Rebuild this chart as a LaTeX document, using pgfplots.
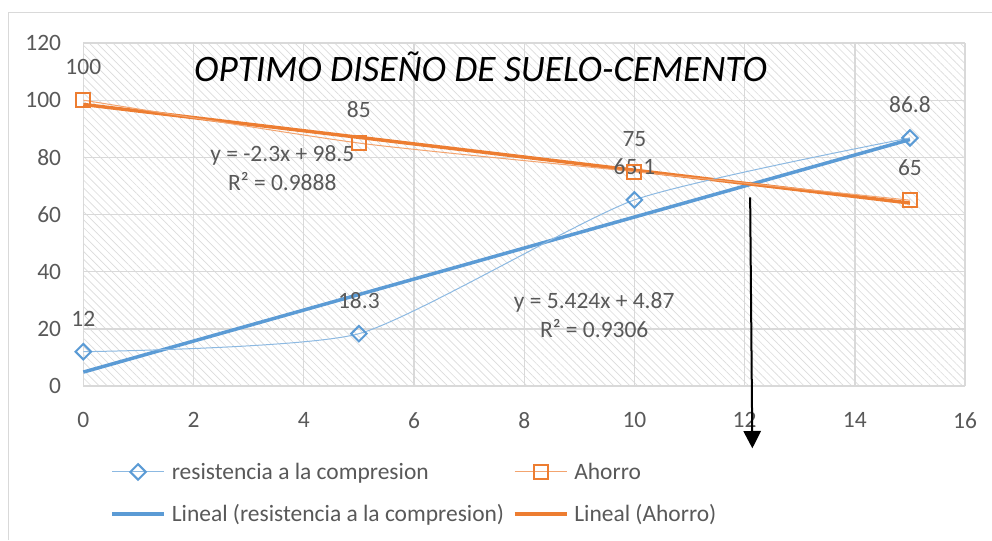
\documentclass[border=0pt]{standalone}
\usepackage{pgfplots}
\pgfplotsset{compat=1.18}
\usepackage{fontspec}
\setmainfont{Carlito}
\usetikzlibrary{patterns.meta, arrows.meta}
\definecolor{xlblue}{HTML}{5B9BD5}
\definecolor{xlorange}{HTML}{ED7D31}
\definecolor{xlgray}{HTML}{595959}
\definecolor{xlgrid}{HTML}{D9D9D9}
\definecolor{xlhatch}{HTML}{DCDCDC}
\newcommand{\lblfont}{\fontsize{17.6}{20}\selectfont}
\begin{document}
\begin{tikzpicture}
\fill[white] (0,0) rectangle (744pt,405pt);
\draw[xlgrid, line width=0.75pt] (6pt,0) -- (6pt,395.25pt) -- (744pt,395.25pt);
\begin{axis}[
  at={(62.5pt,115.5pt)}, anchor=south west,
  scale only axis, width=661.3pt, height=257.25pt,
  xmin=0, xmax=16, ymin=0, ymax=120,
  xtick={0,2,...,16}, ytick={0,20,...,120},
  grid=major, major grid style={xlgrid, line width=1pt},
  axis line style={draw=none},
  major tick length=0pt,
  tick label style={font=\lblfont, text=xlgray, inner sep=0pt},
  /pgf/number format/assume math mode=true,
  xticklabel style={anchor=north, yshift=-19.5pt},
  yticklabel style={anchor=east, xshift=-16.5pt},
  axis background/.style={pattern={Lines[angle=-45,distance=4.2pt,line width=0.5pt]}, pattern color=xlhatch},
  clip=false,
  legend columns=2,
  legend style={draw=none, fill=none, at={(0.0303,-0.3125)}, anchor=west, inner sep=0pt,
    font=\lblfont, text=xlgray, row sep=17.5pt, nodes={inner sep=0pt},
    /tikz/every odd column/.append style={column sep=4.5pt},
    /tikz/every even column/.append style={column sep=6.5pt}},
  legend cell align=left,
  legend image code/.code={\draw[mark repeat=2, mark phase=2, #1] plot coordinates {(0pt,0pt) (19.5pt,0pt) (39pt,0pt)};},
]
\addlegendimage{xlblue!70, line width=0.75pt, mark=square, mark size=4.1pt, mark options={draw=xlblue, fill=white, line width=1.5pt, rotate=45, solid}}
\addlegendentry{resistencia a la compresion}
\addlegendimage{xlorange!70, line width=0.75pt, mark=square, mark size=5.3pt, mark options={draw=xlorange, fill=white, line width=1.5pt, solid}}
\addlegendentry{Ahorro}
\addlegendimage{xlblue, line width=2.6pt}
\addlegendentry{Lineal (resistencia a la compresion)}
\addlegendimage{xlorange, line width=2.6pt}
\addlegendentry{Lineal (Ahorro)}

% trend lines
\addplot[xlblue, line width=2.6pt, forget plot] coordinates {(0,4.87) (15,86.23)};
\addplot[xlorange, line width=2.6pt, forget plot] coordinates {(0,98.5) (15,64.0)};

% series
\addplot[xlblue!70, line width=0.75pt, smooth, tension=0.35, mark=square, mark size=4.1pt,
  mark options={draw=xlblue, fill=white, line width=1.5pt, rotate=45, solid},
  nodes near coords, point meta=explicit symbolic,
  nodes near coords style={font=\lblfont, text=xlgray, anchor=center, yshift=24.75pt, inner sep=0pt},
  forget plot] coordinates {(0,12)[12] (5,18.3)[18.3] (10,65.1)[65.1] (15,86.8)[86.8]};
\addplot[xlorange!70, line width=0.75pt, smooth, tension=0.35, mark=square, mark size=5.3pt,
  mark options={draw=xlorange, fill=white, line width=1.5pt, solid},
  nodes near coords, point meta=explicit symbolic,
  nodes near coords style={font=\lblfont, text=xlgray, anchor=center, yshift=24.75pt, inner sep=0pt},
  forget plot] coordinates {(0,100)[100] (5,85)[85] (10,75)[75] (15,65)[65]};

\node[font=\fontsize{28}{32}\selectfont\itshape, text=black] at (axis cs:7.21,111.6) {OPTIMO DISEÑO DE SUELO-CEMENTO};
\node[align=center, font=\fontsize{17.6}{21.75}\selectfont, text=xlgray] at (axis cs:3.61,76.3) {y = -2.3x + 98.5\\R² = 0.9888};
\node[align=center, font=\fontsize{17.6}{21.75}\selectfont, text=xlgray] at (axis cs:9.27,24.9) {y = 5.424x + 4.87\\R² = 0.9306};
\draw[-{Triangle[width=13pt,length=13pt]}, line width=1.5pt, black] (axis cs:12.1,66) -- (axis cs:12.14,-21.8);
\end{axis}
\pgfresetboundingbox
\useasboundingbox (0,0) rectangle (744pt,405pt);
\end{tikzpicture}
\end{document}
